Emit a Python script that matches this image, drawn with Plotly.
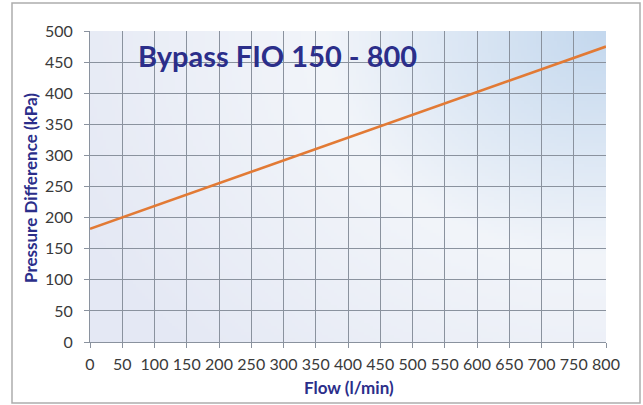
import base64, struct, zlib
import numpy as np
import plotly.graph_objects as go

# ---- data ----
flow = [0, 800]
pressure = [182, 475]
x_ticks = list(range(0, 801, 50))
y_ticks = list(range(0, 501, 50))
title_text = "Bypass FIO 150 - 800"
x_title = "Flow (l/min)"
y_title = "Pressure Difference (kPa)"

W, H = 643, 405
L, R, T, B = 90, 643 - 606, 31, 405 - 342
PW, PH = W - L - R, H - T - B


def make_png(arr):
    h, w, _ = arr.shape
    raw = b"".join(b"\x00" + arr[i].astype(np.uint8).tobytes() for i in range(h))

    def chunk(tag, data):
        c = struct.pack(">I", len(data)) + tag + data
        return c + struct.pack(">I", zlib.crc32(tag + data) & 0xFFFFFFFF)

    png = b"\x89PNG\r\n\x1a\n"
    png += chunk(b"IHDR", struct.pack(">IIBBBBB", w, h, 8, 2, 0, 0, 0))
    png += chunk(b"IDAT", zlib.compress(raw, 9))
    png += chunk(b"IEND", b"")
    return "data:image/png;base64," + base64.b64encode(png).decode()


# gradient background for plot area
gw, gh = 172, 104
u = np.linspace(0, 1, gw)[None, :]
v = np.linspace(1, 0, gh)[:, None]
r = np.sqrt(((1 - u) * 1.0) ** 2 + ((1 - v) * 0.75) ** 2)
blue = np.array([196, 216, 238], float)
white = np.array([242, 245, 250], float)
lav = np.array([228, 232, 244], float)
r3 = r[..., None]
t1 = np.clip(r3 / 0.55, 0, 1)
t2 = np.clip((r3 - 0.55) / 0.6, 0, 1)
col = np.where(r3 < 0.55, blue + (white - blue) * t1, white + (lav - white) * t2)
img_src = make_png(np.clip(col, 0, 255))

FONT = "Lato"
navy = "#2B2E8A"
grid = "#8A929E"
tickc = "#3A3A3A"

fig = go.Figure()
fig.add_trace(go.Scatter(x=flow, y=pressure, mode="lines",
                         line=dict(color="#E27A35", width=2.6),
                         showlegend=False, hoverinfo="skip"))

fig.update_layout(
    width=W, height=H,
    margin=dict(l=L, r=R, t=T, b=B, autoexpand=False),
    paper_bgcolor="white",
    plot_bgcolor="rgba(0,0,0,0)",
    font=dict(family=FONT, color=tickc, size=16),
    images=[dict(source=img_src, xref="paper", yref="paper", x=0, y=1,
                 sizex=1, sizey=1, sizing="stretch", layer="below",
                 xanchor="left", yanchor="top")],
    shapes=[dict(type="rect", xref="paper", yref="paper",
                 x0=(12 - L) / PW, x1=(640 - L) / PW,
                 y0=-(403 - 342) / PH, y1=(342 - 3) / PH,
                 line=dict(color="#ADADAD", width=1.5), layer="below")],
    annotations=[
        dict(text="<b>" + title_text + "</b>", xref="paper", yref="paper",
             x=(136 - L) / PW, y=(342 - 56) / PH,
             xanchor="left", yanchor="middle", showarrow=False,
             font=dict(family=FONT, size=29, color=navy)),
        dict(text="<b>" + x_title + "</b>", xref="paper", yref="paper",
             x=(349 - L) / PW, y=-(387 - 342) / PH,
             xanchor="center", yanchor="middle", showarrow=False,
             font=dict(family=FONT, size=17, color=navy)),
        dict(text="<b>" + y_title + "</b>", xref="paper", yref="paper",
             x=(30 - L) / PW, y=(342 - 188) / PH, textangle=-90,
             xanchor="center", yanchor="middle", showarrow=False,
             font=dict(family=FONT, size=17, color=navy)),
    ],
)
fig.update_xaxes(range=[0, 800], tickvals=x_ticks, ticktext=[str(t) for t in x_ticks],
                 showgrid=True, gridcolor=grid, gridwidth=1,
                 showline=True, linecolor=grid, linewidth=1,
                 ticks="outside", ticklen=5, tickcolor=grid,
                 ticklabelstandoff=3,
                 tickfont=dict(family=FONT, size=16, color=tickc),
                 zeroline=False, fixedrange=True)
fig.update_yaxes(range=[0, 500], tickvals=y_ticks, ticktext=[str(t) for t in y_ticks],
                 showgrid=True, gridcolor=grid, gridwidth=1,
                 showline=True, linecolor=grid, linewidth=1,
                 ticks="outside", ticklen=5, tickcolor=grid,
                 ticklabelstandoff=8,
                 tickfont=dict(family=FONT, size=16, color=tickc),
                 zeroline=False, fixedrange=True)

fig.write_html("out.html", config={"displayModeBar": False},
               post_script="document.body.style.margin='0';")
